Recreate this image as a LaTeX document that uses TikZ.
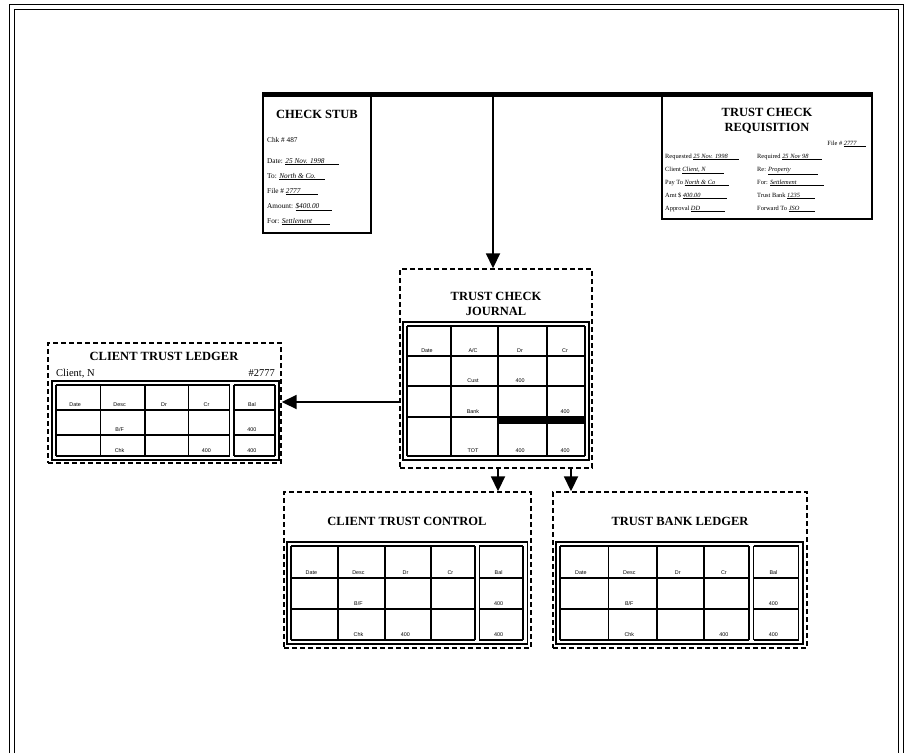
\documentclass[tikz,border=0pt]{standalone}
\usepackage{fontspec}
\setmainfont{Liberation Serif}
\newfontfamily\lblfont{Liberation Sans}
\usetikzlibrary{arrows.meta}
\newcommand{\mkbox}[6]{%
 \pgfmathsetmacro{\mbcx}{(#3+#5)/2}%
 \pgfmathsetmacro{\mbcy}{(#4+#6)/2}%
 \pgfmathsetmacro{\mbw}{#5-#3}%
 \pgfmathsetmacro{\mbh}{#6-#4}%
 \node[#1, minimum width=\mbw pt, minimum height=\mbh pt] (#2) at (\mbcx,\mbcy) {};}
\newcommand{\ulv}[2]{\underline{\makebox[#1][l]{\textit{#2}}}}
\tikzset{
 dbox/.style={draw, line width=1.4pt, dash pattern=on 5pt off 3pt, inner sep=0pt},
 sbox/.style={draw, line width=1.3pt, inner sep=0pt},
 grid/.style={line width=1.5pt},
 frame/.style={line width=1.8pt},
 arr/.style={line width=1.8pt, -{Triangle[length=15pt,width=14pt]}},
 ttl/.style={font=\bfseries\fontsize{12.5}{14.5}\selectfont, align=center, inner sep=0pt},
 sub/.style={font=\fontsize{10.5}{12}\selectfont, inner sep=0pt, anchor=base},
 lbl/.style={font=\lblfont\fontsize{5.4}{6}\selectfont, inner sep=0.5pt, anchor=south},
 txt/.style={font=\fontsize{7.3}{8}\selectfont, anchor=base west, inner sep=0pt},
 rtxt/.style={font=\fontsize{6.4}{7}\selectfont, anchor=base west, inner sep=0pt},
}
% #1 x, #2 y, #3 xscale, #4 #5 #6 row lines, #7 r3c3, #8 r3c4, #9 r2 bal
\newcommand{\ledgertab}[9]{%
\begin{scope}[shift={(#1,#2)}, xscale=#3]
 \draw[frame] (-4,-4) rectangle (221,#6+4);
 \foreach \gx in {0,44,88,131,172,176,217} \draw[grid] (\gx,0) -- (\gx,#6);
 \foreach \gy in {0,#4,#5,#6} {\draw[grid] (0,\gy) -- (172,\gy); \draw[grid] (176,\gy) -- (217,\gy);}
 \node[lbl] at (19,#4-3) {Date};
 \node[lbl] at (63,#4-3) {Desc};
 \node[lbl] at (107,#4-3) {Dr};
 \node[lbl] at (149,#4-3) {Cr};
 \node[lbl] at (194,#4-3) {Bal};
 \node[lbl] at (63,#5-3) {B/F};
 \node[lbl] at (194,#5-3) {#9};
 \node[lbl] at (63,#6-3) {Chk};
 \node[lbl] at (107,#6-3) {#7};
 \node[lbl] at (149,#6-3) {#8};
 \node[lbl] at (194,#6-3) {400};
\end{scope}}
\begin{document}
\begin{tikzpicture}[x=1pt,y=-1pt]
\useasboundingbox (0,0) rectangle (907,753);
% outer frame
\draw[line width=1pt] (9,753) -- (9,4) -- (903,4) -- (903,753);
\draw[line width=0.8pt] (14,753) -- (14,9) -- (898,9) -- (898,753);

% top bar and documents
\mkbox{fill=black, inner sep=0pt}{bar}{262}{92}{873}{97}
\mkbox{sbox}{stub}{263}{96}{371}{233}
\mkbox{sbox}{req}{662}{96}{872}{219}

\node[ttl] (stubttl) at (317,114) {CHECK STUB};
\node[txt] (s1) at (267,142) {Chk \# 487};
\node[txt] (s2) at (267,163) {Date: \ulv{54pt}{25 Nov. 1998}};
\node[txt] (s3) at (267,178) {To: \ulv{46pt}{North \& Co.}};
\node[txt] (s4) at (267,193) {File \# \ulv{32pt}{2777}};
\node[txt] (s5) at (267,208) {Amount: \ulv{36pt}{\$400.00}};
\node[txt] (s6) at (267,223) {For: \ulv{48pt}{Settlement}};

\node[ttl] (reqttl) at (767,121) {TRUST CHECK\\REQUISITION};
\node[rtxt, anchor=base east] (rf) at (866,145) {File \# \ulv{22pt}{2777}};
\node[rtxt] (r1) at (665,158) {Requested \ulv{46pt}{25 Nov. 1998}};
\node[rtxt] (r2) at (665,171) {Client \ulv{42pt}{Client, N}};
\node[rtxt] (r3) at (665,184) {Pay To \ulv{44pt}{North \& Co}};
\node[rtxt] (r4) at (665,197) {Amt \$ \ulv{44pt}{400.00}};
\node[rtxt] (r5) at (665,210) {Approval \ulv{34pt}{DD}};
\node[rtxt] (q1) at (757,158) {Required \ulv{40pt}{25 Nov 98}};
\node[rtxt] (q2) at (757,171) {Re: \ulv{50pt}{Property}};
\node[rtxt] (q3) at (757,184) {For: \ulv{54pt}{Settlement}};
\node[rtxt] (q4) at (757,197) {Trust Bank \ulv{28pt}{1235}};
\node[rtxt] (q5) at (757,210) {Forward To \ulv{26pt}{JSO}};

% journal
\mkbox{dbox}{journal}{400}{269}{592}{468}
\node[ttl] (jttl) at (496,304) {TRUST CHECK\\JOURNAL};
\draw[frame] (403,322) rectangle (589,460);
\foreach \gx in {407,451,498,547,585} \draw[grid] (\gx,326) -- (\gx,456);
\foreach \gy in {326,356,386,417,456} \draw[grid] (407,\gy) -- (585,\gy);
\fill (498,416) rectangle (585,424);
\node[lbl] at (427,353) {Date};
\node[lbl] at (473,353) {A/C};
\node[lbl] at (520,353) {Dr};
\node[lbl] at (565,353) {Cr};
\node[lbl] at (473,383) {Cust};
\node[lbl] at (520,383) {400};
\node[lbl] at (473,414) {Bank};
\node[lbl] at (565,414) {400};
\node[lbl] at (473,453) {TOT};
\node[lbl] at (520,453) {400};
\node[lbl] at (565,453) {400};

% client trust ledger
\mkbox{dbox}{ledger}{48}{343}{281}{463}
\node[ttl] (lttl) at (164,356) {CLIENT TRUST LEDGER};
\node[sub, anchor=base west] (lcl) at (56,376) {Client, N};
\node[sub, anchor=base east] (lno) at (275,376) {\#2777};
\ledgertab{56}{385}{1.01}{25}{50}{71}{}{400}{400}

% client trust control
\mkbox{dbox}{control}{284}{492}{531}{648}
\node[ttl] (cttl) at (407,521) {CLIENT TRUST CONTROL};
\ledgertab{291}{546}{1.07}{32}{63}{94}{400}{}{400}

% trust bank ledger
\mkbox{dbox}{bank}{553}{492}{807}{648}
\node[ttl] (bttl) at (680,521) {TRUST BANK LEDGER};
\ledgertab{560}{546}{1.1}{32}{63}{94}{}{400}{400}

% connectors
\coordinate (la) at (0,402);
\coordinate (d1) at (498,0);
\coordinate (d2) at (571,0);
\draw[arr] ([xshift=-3pt]journal.north |- bar.south) -- ([xshift=-3pt]journal.north);
\draw[arr] (journal.west |- la) -- (ledger.east |- la);
\draw[arr] (journal.south -| d1) -- (control.north -| d1);
\draw[arr] (journal.south -| d2) -- (bank.north -| d2);
\end{tikzpicture}
\end{document}
